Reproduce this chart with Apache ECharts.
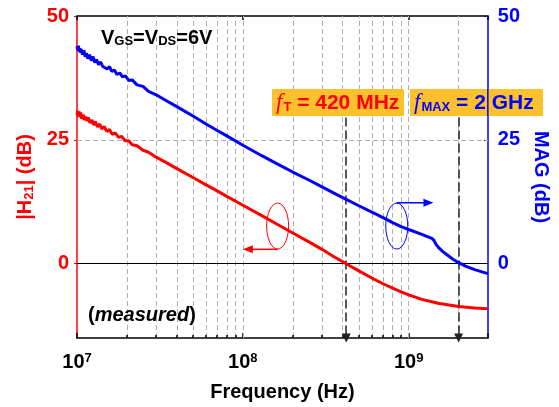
<!DOCTYPE html>
<html>
<head>
<meta charset="utf-8">
<script src="https://cdn.jsdelivr.net/npm/echarts@6/dist/echarts.min.js"></script>
<style>
  html, body { margin: 0; padding: 0; background: #fff; }
  #chart { width: 559px; height: 407px; }
</style>
</head>
<body>
<div id="chart"></div>
<script>
// measured |H21| (dB) vs frequency (Hz)
const h21Freq = [1.00e7, 1.01e7, 1.02e7, 1.03e7, 1.04e7, 1.05e7, 1.07e7, 1.09e7, 1.11e7, 1.13e7,
  1.15e7, 1.17e7, 1.20e7, 1.23e7, 1.26e7, 1.29e7, 1.33e7, 1.37e7, 1.41e7, 1.46e7,
  1.51e7, 1.57e7, 1.63e7, 1.70e7, 1.78e7, 1.86e7, 1.95e7, 2.05e7, 2.15e7, 2.3e7,
  2.5e7, 2.7e7, 3e7, 3.5e7, 4e7, 5e7, 6e7, 7e7, 8e7, 1e8,
  1.3e8, 1.6e8, 2e8, 2.5e8, 3e8, 3.5e8, 4.2e8, 5e8, 6e8, 7e8,
  8e8, 9e8, 1e9, 1.2e9, 1.5e9, 2e9, 2.5e9, 3e9];
const h21 = [30.0, 30.9, 29.6, 30.7, 29.9, 30.5, 29.2, 30.1, 29.0, 29.7,
  28.8, 29.5, 28.4, 29.0, 28.0, 28.7, 27.6, 28.2, 27.2, 27.7,
  26.7, 27.1, 26.1, 26.4, 25.5, 25.7, 24.8, 24.8, 24.0, 23.8,
  22.9, 22.5, 21.5, 20.3, 19.2, 17.4, 15.9, 14.7, 13.6, 11.8,
  9.7, 8.0, 6.2, 4.4, 2.9, 1.5, 0.0, -1.45, -2.9, -4.05,
  -4.95, -5.7, -6.3, -7.2, -8.0, -8.65, -8.95, -9.1];

// measured MAG (dB) vs frequency (Hz)
const magFreq = [1.00e7, 1.01e7, 1.02e7, 1.03e7, 1.04e7, 1.05e7, 1.06e7, 1.08e7, 1.10e7, 1.12e7,
  1.14e7, 1.16e7, 1.19e7, 1.22e7, 1.25e7, 1.28e7, 1.31e7, 1.35e7, 1.39e7, 1.43e7,
  1.47e7, 1.52e7, 1.57e7, 1.62e7, 1.68e7, 1.74e7, 1.81e7, 1.88e7, 1.96e7, 2.05e7,
  2.15e7, 2.3e7, 2.5e7, 2.7e7, 3e7, 3.5e7, 4e7, 5e7, 6e7, 7e7,
  8e7, 1e8, 1.3e8, 1.6e8, 2e8, 2.5e8, 3e8, 3.76e8, 4.2e8, 5e8,
  6e8, 7e8, 8e8, 9e8, 1e9, 1.2e9, 1.33e9, 1.38e9, 1.40e9, 1.42e9,
  1.44e9, 1.46e9, 1.48e9, 1.51e9, 1.55e9, 1.6e9, 1.7e9, 1.85e9, 2e9, 2.2e9,
  2.5e9, 2.8e9, 3e9];
const mag = [43.9, 43.1, 44.0, 42.8, 43.5, 42.6, 43.3, 42.2, 43.1, 41.8,
  42.5, 41.4, 42.2, 41.0, 41.8, 40.6, 41.2, 40.2, 40.7, 39.8,
  40.1, 39.3, 39.8, 38.8, 39.1, 38.2, 38.5, 37.7, 37.9, 37.0,
  37.1, 36.1, 35.8, 34.8, 34.1, 32.8, 31.7, 29.8, 28.2, 26.9,
  25.8, 23.9, 21.8, 20.2, 18.5, 16.9, 15.5, 13.8, 13.0, 11.7,
  10.4, 9.3, 8.3, 7.5, 6.9, 5.9, 5.3, 5.1, 5.4, 4.7,
  4.6, 3.9, 4.0, 3.3, 3.0, 2.5, 1.8, 0.9, 0.2, -0.5,
  -1.2, -1.7, -2.0];

const gridFreqs = [2e7, 3e7, 4e7, 5e7, 6e7, 7e7, 8e7, 9e7, 1e8,
  2e8, 3e8, 4e8, 5e8, 6e8, 7e8, 8e8, 9e8, 1e9, 2e9];
const yTicks = [0, 25, 50];
const fT = 4.2e8;
const fMax = 2e9;

const FONT = 'Liberation Sans, Arial, sans-serif';
const SERIF = 'Liberation Serif, Times New Roman, serif';
const RED = '#ff0000';
const BLUE = '#0000ff';

let chart = echarts.init(document.getElementById('chart'));

let gridLines = gridFreqs.map(f => ({ xAxis: f }));
gridLines.push({ yAxis: 25 });
let zeroLine = [{ yAxis: 0, lineStyle: { color: '#000', type: 'solid', width: 1 } }];
let minorTicks = gridFreqs.filter(f => f !== 1e8 && f !== 1e9)
  .map(f => [{ coord: [f, -15] }, { coord: [f, -14.4] }]);

chart.setOption({
  animation: false,
  grid: { left: 77, right: 68, top: 16, bottom: 69 },
  xAxis: [
    {
      type: 'log', logBase: 10, min: 1e7, max: 3e9, position: 'bottom',
      axisLine: { onZero: false, lineStyle: { color: '#000', width: 1.5 } },
      axisTick: { inside: true, length: 5, lineStyle: { color: '#000', width: 1.5 } },
      splitLine: { show: false },
      axisLabel: {
        margin: 14,
        formatter: function (v) {
          let e = Math.log10(v);
          if (Math.abs(e - Math.round(e)) > 1e-6) return '';
          return '{b|10}{s|' + Math.round(e) + '}';
        },
        rich: {
          b: { fontSize: 20, fontWeight: 'bold', fontFamily: FONT, color: '#000', lineHeight: 22, verticalAlign: 'top' },
          s: { fontSize: 13, fontWeight: 'bold', fontFamily: FONT, color: '#000', lineHeight: 8, verticalAlign: 'top' }
        }
      },
      name: 'Frequency (Hz)', nameLocation: 'middle', nameGap: 44,
      nameTextStyle: { fontSize: 20, fontWeight: 'bold', fontFamily: FONT, color: '#000' }
    },
    {
      type: 'log', logBase: 10, min: 1e7, max: 3e9, position: 'top',
      axisLine: { onZero: false, lineStyle: { color: '#000', width: 1.5 } },
      axisTick: { inside: true, length: 4, lineStyle: { color: '#000', width: 1.5 } },
      axisLabel: { show: false },
      splitLine: { show: false }
    }
  ],
  yAxis: [
    {
      type: 'value', min: -15, max: 50, position: 'left',
      axisLine: { show: true, onZero: false, lineStyle: { color: RED, width: 1.5 } },
      axisTick: { show: true, customValues: yTicks, length: 3, lineStyle: { color: RED } },
      axisLabel: { customValues: yTicks, color: RED, fontSize: 20, fontWeight: 'bold', fontFamily: FONT, margin: 8 },
      splitLine: { show: false },
      name: '{a||H}{s|21}{a|| (dB)}', nameLocation: 'middle', nameGap: 39,
      nameTextStyle: {
        rich: {
          a: { fontSize: 20, fontWeight: 'bold', fontFamily: FONT, color: RED, lineHeight: 20, verticalAlign: 'bottom' },
          s: { fontSize: 13, fontWeight: 'bold', fontFamily: FONT, color: RED, lineHeight: 10, verticalAlign: 'bottom' }
        }
      }
    },
    {
      type: 'value', min: -15, max: 50, position: 'right',
      axisLine: { show: true, onZero: false, lineStyle: { color: BLUE, width: 1.5 } },
      axisTick: { show: true, customValues: yTicks, inside: true, length: 4, lineStyle: { color: BLUE } },
      axisLabel: { customValues: yTicks, color: BLUE, fontSize: 20, fontWeight: 'bold', fontFamily: FONT, margin: 10 },
      splitLine: { show: false },
      name: 'MAG (dB)', nameLocation: 'middle', nameGap: 39, nameRotate: -90,
      nameTextStyle: { fontSize: 20, fontWeight: 'bold', fontFamily: FONT, color: BLUE }
    }
  ],
  series: [
    {
      type: 'line', name: '|H21|', xAxisIndex: 0, yAxisIndex: 0,
      data: h21Freq.map((f, i) => [f, h21[i]]),
      showSymbol: false, z: 5,
      lineStyle: { color: RED, width: 3 },
      markLine: {
        silent: true, symbol: 'none', label: { show: false }, z: 1,
        lineStyle: { color: '#b0b0b0', type: [5, 3], width: 1 },
        data: gridLines.concat(zeroLine)
      }
    },
    {
      type: 'line', name: 'MAG', xAxisIndex: 0, yAxisIndex: 1,
      data: magFreq.map((f, i) => [f, mag[i]]),
      showSymbol: false, z: 5,
      lineStyle: { color: BLUE, width: 3 },
      markLine: {
        silent: true, symbol: 'none', label: { show: false }, z: 2,
        lineStyle: { color: '#000', type: 'solid', width: 1.5 },
        data: minorTicks
      }
    },
    {
      // fT / fMAX marker arrows
      type: 'line', xAxisIndex: 0, yAxisIndex: 0, data: [],
      markLine: {
        silent: true, symbol: ['none', 'triangle'], symbolSize: [9, 9], label: { show: false }, z: 3,
        lineStyle: { color: '#222', type: [9, 4], width: 1.5 },
        data: [
          [{ coord: [fT, 29.5] }, { coord: [fT, -15] }],
          [{ coord: [fMax, 29.5] }, { coord: [fMax, -15] }]
        ]
      }
    }
  ]
});

// annotations placed from data coordinates
function px(f, v) { return chart.convertToPixel({ seriesIndex: 0 }, [f, v]); }
let redC = px(1.62e8, 7.6);
let redTip = px(1e8, 2.9);
let blueC = px(8.47e8, 7.6);
let blueTip = px(1.41e9, 12.3);
let rightX = px(3e9, 0)[0];

chart.setOption({
  graphic: [
    { type: 'ellipse', shape: { cx: redC[0], cy: redC[1], rx: 11, ry: 23 }, style: { fill: 'none', stroke: RED, lineWidth: 1 }, z: 10 },
    { type: 'line', shape: { x1: redC[0], y1: redTip[1], x2: redTip[0] + 8, y2: redTip[1] }, style: { stroke: RED, lineWidth: 1.5 }, z: 10 },
    { type: 'polygon', shape: { points: [[redTip[0], redTip[1]], [redTip[0] + 10, redTip[1] - 4], [redTip[0] + 10, redTip[1] + 4]] }, style: { fill: RED }, z: 10 },
    { type: 'ellipse', shape: { cx: blueC[0], cy: blueC[1], rx: 11, ry: 23 }, style: { fill: 'none', stroke: BLUE, lineWidth: 1 }, z: 10 },
    { type: 'line', shape: { x1: blueC[0], y1: blueTip[1], x2: blueTip[0] - 8, y2: blueTip[1] }, style: { stroke: BLUE, lineWidth: 1.5 }, z: 10 },
    { type: 'polygon', shape: { points: [[blueTip[0], blueTip[1]], [blueTip[0] - 10, blueTip[1] - 4], [blueTip[0] - 10, blueTip[1] + 4]] }, style: { fill: BLUE }, z: 10 },
    {
      type: 'text', left: 101, top: 28, z: 10,
      style: {
        text: '{a|V}{s|GS}{a|=V}{s|DS}{a|=6V}',
        rich: {
          a: { fontSize: 20, fontWeight: 'bold', fontFamily: FONT, fill: '#000', lineHeight: 22, verticalAlign: 'bottom' },
          s: { fontSize: 13, fontWeight: 'bold', fontFamily: FONT, fill: '#000', lineHeight: 13, verticalAlign: 'bottom' }
        }
      }
    },
    {
      type: 'text', left: 88, top: 305, z: 10,
      style: {
        text: '{a|(}{i|measured}{a|)}',
        rich: {
          a: { fontSize: 20, fontWeight: 'bold', fontFamily: FONT, fill: '#000' },
          i: { fontSize: 20, fontWeight: 'bold', fontStyle: 'italic', fontFamily: FONT, fill: '#000' }
        }
      }
    },
    {
      type: 'rect', shape: { x: 272, y: 89, width: 132, height: 27 }, style: { fill: '#fcc12d' }, z: 8
    },
    {
      type: 'text', x: 276, y: 90, z: 10,
      style: {
        text: '{f|f}{s|T}{a| = 420 MHz}',
        rich: {
          f: { fontSize: 23, fontStyle: 'italic', fontFamily: SERIF, fill: RED, lineHeight: 24, verticalAlign: 'bottom' },
          s: { fontSize: 13, fontWeight: 'bold', fontFamily: FONT, fill: RED, lineHeight: 16, verticalAlign: 'bottom', padding: [0, 0, 0, 1] },
          a: { fontSize: 21, fontWeight: 'bold', fontFamily: FONT, fill: RED, lineHeight: 24, verticalAlign: 'bottom' }
        }
      }
    },
    {
      type: 'rect', shape: { x: 410, y: 89, width: 133, height: 27 }, style: { fill: '#fcc12d' }, z: 8
    },
    {
      type: 'text', x: 414, y: 90, z: 10,
      style: {
        text: '{f|f}{s|MAX}{a| = 2 GHz}',
        rich: {
          f: { fontSize: 23, fontStyle: 'italic', fontFamily: SERIF, fill: BLUE, lineHeight: 24, verticalAlign: 'bottom' },
          s: { fontSize: 13, fontWeight: 'bold', fontFamily: FONT, fill: BLUE, lineHeight: 16, verticalAlign: 'bottom', padding: [0, 0, 0, 1] },
          a: { fontSize: 21, fontWeight: 'bold', fontFamily: FONT, fill: BLUE, lineHeight: 24, verticalAlign: 'bottom' }
        }
      }
    },
    // right axis line stays visible across the label box
    { type: 'line', shape: { x1: rightX, y1: 89, x2: rightX, y2: 116 }, style: { stroke: BLUE, lineWidth: 1.5 }, z: 11 }
  ]
});
</script>
</body>
</html>
